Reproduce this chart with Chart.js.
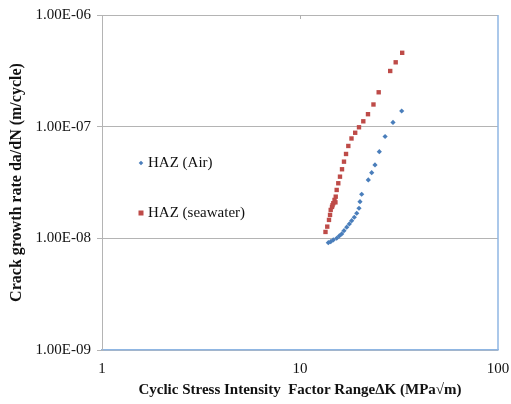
<!DOCTYPE html>
<html>
<head>
<meta charset="utf-8">
<script src="https://cdn.jsdelivr.net/npm/chart.js@4/dist/chart.umd.min.js"></script>
<style>
html,body{margin:0;padding:0;background:#fff;}
#c{display:block;}
</style>
</head>
<body>
<canvas id="c" width="511" height="404"></canvas>
<script>
// ---- data ----
const airK = [13.90,14.29,14.73,15.32,15.79,16.24,16.68,17.22,17.75,18.24,18.80,19.34,19.86,20.09,20.49,22.13,23.02,23.92,25.15,26.90,29.49,32.63];
const airRate = [9.15e-9,9.34e-9,9.67e-9,1.002e-8,1.051e-8,1.095e-8,1.172e-8,1.258e-8,1.346e-8,1.440e-8,1.545e-8,1.678e-8,1.860e-8,2.131e-8,2.482e-8,3.332e-8,3.876e-8,4.540e-8,5.972e-8,8.168e-8,1.091e-7,1.382e-7];
const seaK = [13.45,13.73,14.01,14.18,14.29,14.51,14.73,14.60,14.94,15.10,15.15,15.32,15.61,15.92,16.30,16.68,17.08,17.54,18.20,19.00,19.86,20.88,22.05,23.50,24.97,28.55,30.43,32.82];
const seaRate = [1.141e-8,1.273e-8,1.462e-8,1.620e-8,1.796e-8,1.910e-8,2.062e-8,1.980e-8,2.207e-8,2.100e-8,2.362e-8,2.712e-8,3.113e-8,3.566e-8,4.155e-8,4.860e-8,5.695e-8,6.716e-8,7.838e-8,8.819e-8,9.876e-8,1.117e-7,1.293e-7,1.580e-7,2.032e-7,3.152e-7,3.771e-7,4.587e-7];
const seriesNames = ['HAZ (Air)', 'HAZ (seawater)'];
const xTickValues = [1, 10, 100];
const xTickLabels = ['1', '10', '100'];
const yTickValues = [1e-9, 1e-8, 1e-7, 1e-6];
const yTickLabels = ['1.00E-09', '1.00E-08', '1.00E-07', '1.00E-06'];
const xTitle = 'Cyclic Stress Intensity  Factor Range\u0394K (MPa\u221Am)';
const yTitle = 'Crack growth rate da/dN (m/cycle)';

const BLUE = '#4a7ebb';
const RED = '#be4b48';
const SERIF = '"Liberation Serif", "Times New Roman", serif';

const toPts = (xs, ys) => xs.map((x, i) => ({x: x, y: ys[i]}));

const extras = {
  id: 'extras',
  afterDraw(chart) {
    const ctx = chart.ctx, a = chart.chartArea;
    ctx.save();
    // right border (blue)
    ctx.strokeStyle = '#8fb6e3';
    ctx.lineWidth = 1.5;
    ctx.beginPath();
    ctx.moveTo(a.right, a.top);
    ctx.lineTo(a.right, a.bottom);
    ctx.stroke();
    // small top tick at x=10
    const x10 = chart.scales.x.getPixelForValue(10);
    ctx.strokeStyle = '#b0b0b0';
    ctx.lineWidth = 1;
    ctx.beginPath();
    ctx.moveTo(Math.round(x10) + 0.5, a.top);
    ctx.lineTo(Math.round(x10) + 0.5, a.top + 4);
    ctx.stroke();
    // legend inside plot
    ctx.font = '15px ' + SERIF;
    ctx.textBaseline = 'middle';
    const lx = 148;
    const ly = [163, 213];
    ctx.fillStyle = BLUE;
    ctx.beginPath();
    ctx.moveTo(141, ly[0] - 2.3); ctx.lineTo(143.3, ly[0]); ctx.lineTo(141, ly[0] + 2.3); ctx.lineTo(138.7, ly[0]); ctx.closePath();
    ctx.fill();
    ctx.fillStyle = RED;
    ctx.fillRect(138.5, ly[1] - 2.5, 5, 5);
    ctx.fillStyle = '#111';
    ctx.fillText(seriesNames[0], lx, ly[0]);
    ctx.fillText(seriesNames[1], lx, ly[1]);
    ctx.restore();
  }
};

new Chart(document.getElementById('c'), {
  type: 'scatter',
  data: {
    datasets: [
      {label: seriesNames[0], data: toPts(airK, airRate), pointStyle: 'rectRot', radius: 2.6, backgroundColor: BLUE, borderColor: BLUE, borderWidth: 0},
      {label: seriesNames[1], data: toPts(seaK, seaRate), pointStyle: 'rect', radius: 3.1, backgroundColor: RED, borderColor: RED, borderWidth: 0}
    ]
  },
  options: {
    responsive: false,
    animation: false,
    devicePixelRatio: 1,
    layout: {padding: {left: 0, top: 15, right: 13, bottom: 0}},
    plugins: {legend: {display: false}, tooltip: {enabled: false}},
    scales: {
      x: {
        type: 'logarithmic', min: 1, max: 100,
        afterBuildTicks: ax => { ax.ticks = xTickValues.map(v => ({value: v})); },
        afterFit: ax => { ax.height = 54; ax.paddingRight = 0; ax.paddingLeft = 0; },
        ticks: {
          autoSkip: false, maxRotation: 0, padding: 10,
          font: {family: SERIF, size: 15}, color: '#111',
          callback: (v, i) => xTickLabels[i]
        },
        grid: {display: false, drawTicks: false},
        border: {display: true, color: '#8fb6e3', width: 1.5},
        title: {display: true, text: xTitle, font: {family: SERIF, size: 15, weight: 'bold'}, color: '#111', padding: {top: 0, bottom: 5}}
      },
      y: {
        type: 'logarithmic', min: 1e-9, max: 1e-6,
        afterBuildTicks: ax => { ax.ticks = yTickValues.map(v => ({value: v})); },
        afterFit: ax => { ax.width = 102; ax.paddingTop = 0; ax.paddingBottom = 0; },
        ticks: {
          autoSkip: false, padding: 6,
          font: {family: SERIF, size: 15}, color: '#111',
          callback: (v, i) => yTickLabels[i]
        },
        grid: {color: '#b4b4b4', lineWidth: 1, tickLength: 5, drawTicks: true},
        border: {display: true, color: '#b4b4b4', width: 1},
        title: {display: true, text: yTitle, font: {family: SERIF, size: 16, weight: 'bold'}, color: '#111', padding: {top: 7, bottom: 0}}
      }
    }
  },
  plugins: [extras]
});
</script>
</body>
</html>
